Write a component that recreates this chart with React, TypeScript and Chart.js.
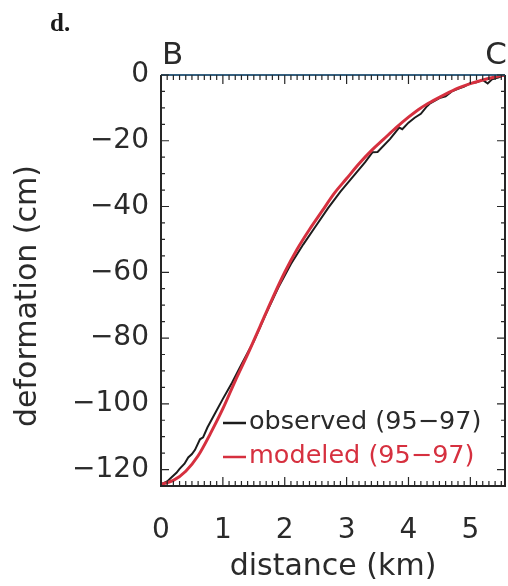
import React, { useEffect, useRef } from "react";
import { Chart, registerables } from "chart.js";

Chart.register(...registerables);

// ---- data ----
const observedDistance = [
  0, 0.1, 0.18, 0.25, 0.3, 0.38, 0.44, 0.5, 0.55, 0.63, 0.68, 0.75, 0.87, 1.0, 1.15,
  1.3, 1.5, 1.7, 1.9, 2.1, 2.3, 2.5, 2.7, 2.9, 3.1, 3.3, 3.42, 3.5, 3.7, 3.85, 3.9,
  4.0, 4.1, 4.2, 4.3, 4.35, 4.5, 4.6, 4.7, 4.8, 4.9, 5.0, 5.1, 5.2, 5.28, 5.35, 5.45, 5.56,
];
const observedDeformation = [
  -124.5, -123.6, -122.2, -121, -119.8, -118.2, -116.3, -115.3, -114, -110.8, -110.2, -107.2,
  -103, -98.5, -93.5, -88, -81, -72.5, -64.5, -57.5, -51.5, -46, -40.5, -35.5, -31, -26.5,
  -23.5, -23.4, -19.5, -16, -16.5, -14.5, -13, -11.8, -9.5, -8.6, -7, -6.5, -5, -4.2,
  -3.5, -2.5, -2.2, -1.5, -2.6, -1.3, -0.8, 0,
];
const modeledDistance = [
  0, 0.2, 0.4, 0.6, 0.8, 1.0, 1.2, 1.4, 1.6, 1.8, 2.0, 2.2, 2.4, 2.6, 2.8, 3.0, 3.2,
  3.4, 3.6, 3.8, 4.0, 4.2, 4.4, 4.6, 4.8, 5.0, 5.2, 5.4, 5.56,
];
const modeledDeformation = [
  -124.5, -123.3, -120.5, -115.8, -109, -101.5, -93, -85, -76.5, -68, -60, -53, -47,
  -41.5, -36, -31.5, -27, -23, -19.5, -16, -12.8, -10, -7.8, -5.8, -4, -2.6, -1.5, -0.6, 0,
];
const xTickValues = [0, 1, 2, 3, 4, 5];
const yTickValues = [0, -20, -40, -60, -80, -100, -120];
const seriesNames = ["observed (95\u221297)", "modeled (95\u221297)"];
const xTitle = "distance (km)";
const yTitle = "deformation (cm)";
const endLabels = ["B", "C"];
const panelLabel = "d.";

const X_MIN = 0;
const X_MAX = 5.56;
const Y_MIN = -125;
const Y_MAX = 0;

const TEXT = "#2a2a2a";
const BLACK = "#1c1c1c";
const RED = "#d6303f";
const FONT = "'DejaVu Sans', sans-serif";

const decorPlugin = {
  id: "decor",
  afterDatasetsDraw(chart: any) {
    const { ctx, chartArea } = chart;
    const { left, right, top, bottom } = chartArea;
    const xs = chart.scales.x;
    const ys = chart.scales.y;
    ctx.save();
    // frame
    ctx.lineWidth = 2;
    ctx.strokeStyle = "#262626";
    ctx.beginPath();
    ctx.moveTo(left, top);
    ctx.lineTo(left, bottom);
    ctx.lineTo(right, bottom);
    ctx.lineTo(right, top);
    ctx.stroke();
    ctx.strokeStyle = "#35607f";
    ctx.beginPath();
    ctx.moveTo(left, top);
    ctx.lineTo(right, top);
    ctx.stroke();

    ctx.strokeStyle = "#262626";
    ctx.lineWidth = 1.2;
    // x ticks (minor 0.1, major 1)
    for (let i = 0; i * 0.1 <= X_MAX + 1e-9; i++) {
      const px = xs.getPixelForValue(i * 0.1);
      const len = i % 10 === 0 ? 9 : 5;
      ctx.beginPath();
      ctx.moveTo(px, bottom);
      ctx.lineTo(px, bottom - len);
      ctx.moveTo(px, top);
      ctx.lineTo(px, top + len);
      ctx.stroke();
    }
    // y ticks (minor 5, major 20)
    for (let i = 0; i * 5 <= Y_MAX - Y_MIN + 1e-9; i++) {
      const v = -i * 5;
      const py = ys.getPixelForValue(v);
      const len = v % 20 === 0 ? 8 : 4;
      ctx.beginPath();
      ctx.moveTo(left, py);
      ctx.lineTo(left + len, py);
      ctx.moveTo(right, py);
      ctx.lineTo(right - len, py);
      ctx.stroke();
    }
    ctx.restore();
  },
  afterDraw(chart: any) {
    const { ctx, chartArea } = chart;
    const { left, right, top, bottom } = chartArea;
    ctx.save();
    // legend
    const colors = [BLACK, RED];
    const textColors = [TEXT, RED];
    const ys = [bottom - 64, bottom - 30];
    ctx.font = `25.5px ${FONT}`;
    ctx.textBaseline = "middle";
    ctx.textAlign = "left";
    for (let i = 0; i < seriesNames.length; i++) {
      ctx.strokeStyle = colors[i];
      ctx.lineWidth = 2.5;
      ctx.beginPath();
      ctx.moveTo(left + 62, ys[i] + 1);
      ctx.lineTo(left + 85, ys[i] + 1);
      ctx.stroke();
      ctx.fillStyle = textColors[i];
      ctx.fillText(seriesNames[i], left + 88, ys[i]);
    }
    // end labels B / C
    ctx.fillStyle = TEXT;
    ctx.font = `31px ${FONT}`;
    ctx.textBaseline = "middle";
    ctx.textAlign = "left";
    ctx.fillText(endLabels[0], left + 1, top - 19);
    ctx.textAlign = "right";
    ctx.fillText(endLabels[1], right + 2, top - 19);
    // panel label
    ctx.font = `bold 25px 'Liberation Serif', 'DejaVu Serif', serif`;
    ctx.textAlign = "left";
    ctx.textBaseline = "alphabetic";
    ctx.fillStyle = "#1a1a1a";
    ctx.fillText(panelLabel, 50, 31);
    // y title
    ctx.save();
    ctx.translate(28, 296);
    ctx.rotate(-Math.PI / 2);
    ctx.font = `30px ${FONT}`;
    ctx.fillStyle = TEXT;
    ctx.textAlign = "center";
    ctx.textBaseline = "middle";
    ctx.fillText(yTitle, 0, 0);
    ctx.restore();
    ctx.restore();
  },
};

export default function App() {
  const canvasRef = useRef<HTMLCanvasElement | null>(null);

  useEffect(() => {
    document.body.style.margin = "0";
    const canvas = canvasRef.current;
    if (!canvas) return;
    const chart = new Chart(canvas, {
      type: "line",
      data: {
        datasets: [
          {
            label: seriesNames[0],
            data: observedDistance.map((x, i) => ({ x, y: observedDeformation[i] })),
            borderColor: BLACK,
            borderWidth: 2,
            pointRadius: 0,
            tension: 0,
            order: 2,
          },
          {
            label: seriesNames[1],
            data: modeledDistance.map((x, i) => ({ x, y: modeledDeformation[i] })),
            borderColor: RED,
            borderWidth: 3,
            pointRadius: 0,
            cubicInterpolationMode: "monotone",
            order: 1,
          },
        ],
      },
      options: {
        responsive: false,
        animation: false,
        events: [],
        layout: { padding: { left: 0, right: 3, top: 75, bottom: 0 } },
        plugins: {
          legend: { display: false },
          tooltip: { enabled: false },
        },
        scales: {
          x: {
            type: "linear",
            min: X_MIN,
            max: X_MAX,
            grid: { display: false, drawTicks: false },
            border: { display: false },
            afterBuildTicks: (s: any) => {
              s.ticks = xTickValues.map((v) => ({ value: v }));
            },
            afterFit: (s: any) => {
              s.height = 100;
            },
            ticks: {
              autoSkip: false,
              maxRotation: 0,
              padding: 28,
              color: TEXT,
              font: { family: FONT, size: 28 },
            },
            title: {
              display: true,
              text: xTitle,
              color: TEXT,
              font: { family: FONT, size: 30 },
              padding: { top: 0, bottom: 1 },
            },
          },
          y: {
            type: "linear",
            min: Y_MIN,
            max: Y_MAX,
            grid: { display: false, drawTicks: false },
            border: { display: false },
            afterBuildTicks: (s: any) => {
              s.ticks = yTickValues.map((v) => ({ value: v }));
            },
            afterFit: (s: any) => {
              s.width = 161;
            },
            ticks: {
              autoSkip: false,
              padding: 12,
              color: TEXT,
              font: { family: FONT, size: 28 },
              callback: (v: any) => (Number(v) < 0 ? "\u2212" + Math.abs(Number(v)) : String(v)),
            },
          },
        },
      },
      plugins: [decorPlugin],
    } as any);
    return () => chart.destroy();
  }, []);

  return (
    <div style={{ width: 508, height: 586, background: "#fff" }}>
      <canvas ref={canvasRef} width={508} height={586} style={{ display: "block" }} />
    </div>
  );
}
